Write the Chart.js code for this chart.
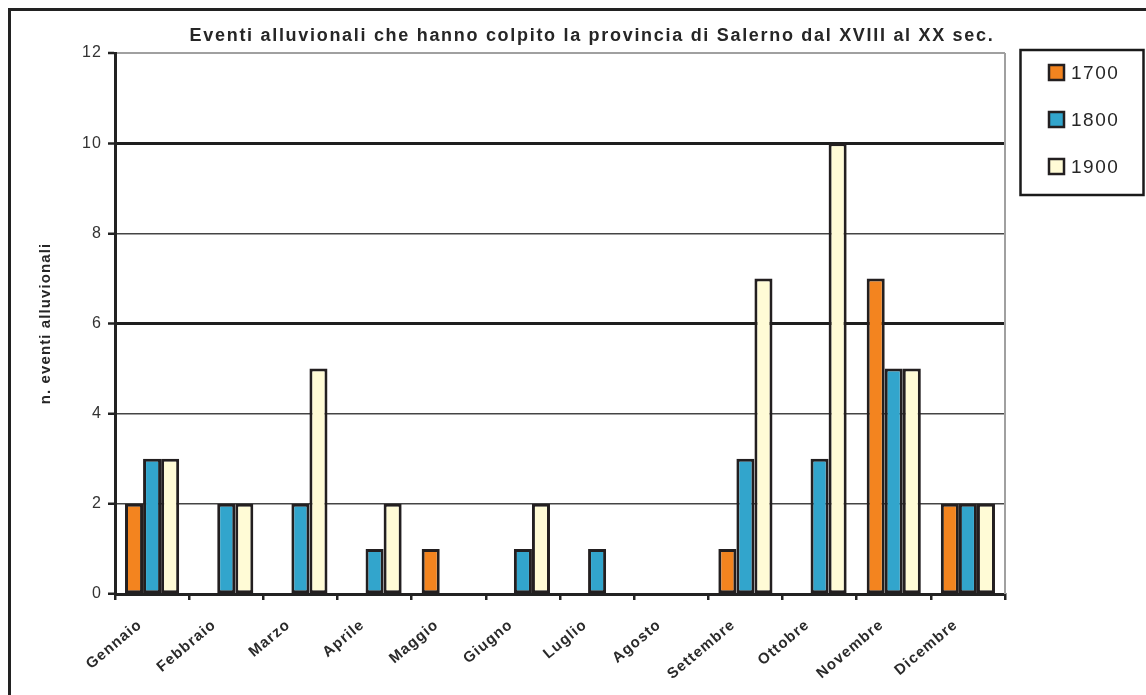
<!DOCTYPE html>
<html>
<head>
<meta charset="utf-8">
<title>Eventi alluvionali - provincia di Salerno</title>
<script src="https://cdn.jsdelivr.net/npm/chart.js@4/dist/chart.umd.min.js"></script>
<style>
  html, body { margin: 0; padding: 0; background: #fff; }
  #wrap { width: 1146px; height: 695px; position: relative; }
</style>
</head>
<body>
<div id="wrap"><canvas id="alluvioni"></canvas></div>
<script>
// --- Dati ---
const mesi = ['Gennaio', 'Febbraio', 'Marzo', 'Aprile', 'Maggio', 'Giugno', 'Luglio', 'Agosto', 'Settembre', 'Ottobre', 'Novembre', 'Dicembre'];
const secolo1700 = [2, 0, 0, 0, 1, 0, 0, 0, 1, 0, 7, 2];
const secolo1800 = [3, 2, 2, 1, 0, 1, 1, 0, 3, 3, 5, 2];
const secolo1900 = [3, 2, 5, 2, 0, 2, 0, 0, 7, 10, 5, 2];
const yTicks = [0, 2, 4, 6, 8, 10, 12];

const titolo = 'Eventi alluvionali che hanno colpito la provincia di Salerno dal XVIII al XX sec.';
const bordo = '#231f20';
const font = '"Liberation Sans", Arial, sans-serif';

// --- Cornice, titolo e legenda ---
const decorPlugin = {
  id: 'decor',
  beforeDraw(chart) {
    const ctx = chart.ctx;
    ctx.save();
    ctx.fillStyle = '#fff';
    ctx.fillRect(0, 0, chart.width, chart.height);
    ctx.restore();
    // testo leggermente spaziato per assi ed etichette
    ctx.letterSpacing = '1.1px';
  },
  afterDraw(chart) {
    const ctx = chart.ctx;
    const area = chart.chartArea;
    ctx.save();

    // cornice esterna
    ctx.strokeStyle = '#222';
    ctx.lineWidth = 3;
    ctx.beginPath();
    ctx.moveTo(9.5, chart.height);
    ctx.lineTo(9.5, 9.5);
    ctx.lineTo(chart.width, 9.5);
    ctx.stroke();

    // bordo destro dell'area grafico
    ctx.strokeStyle = '#a0a0a0';
    ctx.lineWidth = 2;
    ctx.beginPath();
    ctx.moveTo(area.right, area.top);
    ctx.lineTo(area.right, area.bottom);
    ctx.stroke();

    // titolo
    ctx.fillStyle = '#262626';
    ctx.letterSpacing = '1.7px';
    ctx.font = 'bold 18px ' + font;
    ctx.textAlign = 'center';
    ctx.textBaseline = 'middle';
    ctx.fillText(titolo, 592, 36);

    // legenda
    ctx.strokeStyle = '#1a1a1a';
    ctx.lineWidth = 2.5;
    ctx.strokeRect(1020.5, 50, 123, 145);
    ctx.letterSpacing = '1.5px';
    ctx.font = '19px ' + font;
    ctx.textAlign = 'left';
    const ys = [73, 120, 167];
    chart.data.datasets.forEach((ds, i) => {
      const y = ys[i];
      ctx.fillStyle = ds.backgroundColor;
      ctx.fillRect(1049, y - 8, 15, 15);
      ctx.strokeStyle = bordo;
      ctx.lineWidth = 2.5;
      ctx.strokeRect(1049, y - 8, 15, 15);
      ctx.fillStyle = '#262626';
      ctx.fillText(ds.label, 1071, y + 1);
    });
    ctx.restore();
  }
};

function serie(label, data, colore) {
  return {
    label: label,
    data: data,
    backgroundColor: colore,
    borderColor: bordo,
    borderWidth: 3,
    borderSkipped: false,
    categoryPercentage: 0.73,
    barPercentage: 1.0
  };
}

new Chart(document.getElementById('alluvioni').getContext('2d'), {
  type: 'bar',
  data: {
    labels: mesi,
    datasets: [
      serie('1700', secolo1700, '#f3841f'),
      serie('1800', secolo1800, '#32a5cc'),
      serie('1900', secolo1900, '#fffbd6')
    ]
  },
  options: {
    responsive: true,
    maintainAspectRatio: false,
    animation: false,
    layout: { padding: { left: 0, right: 141, top: 53, bottom: 0 } },
    plugins: {
      legend: { display: false },
      title: { display: false },
      tooltip: { enabled: false }
    },
    scales: {
      x: {
        afterFit: s => { s.height = 101; },
        grid: {
          display: true,
          drawOnChartArea: false,
          drawTicks: true,
          offset: true,
          tickLength: 6,
          color: '#222',
          lineWidth: 2.5
        },
        border: { display: true, color: '#222', width: 3 },
        ticks: {
          autoSkip: false,
          minRotation: 40,
          maxRotation: 40,
          padding: 16,
          labelOffset: -12,
          color: '#2a2a2a',
          font: { family: font, size: 15, weight: 'bold' }
        }
      },
      y: {
        min: 0,
        max: 12,
        afterFit: s => { s.width = 115; },
        afterBuildTicks: s => { s.ticks = yTicks.map(v => ({ value: v })); },
        grid: {
          drawTicks: true,
          tickLength: 7,
          tickColor: '#222',
          tickWidth: 2.5,
          color: c => c.tick.value === 12 ? '#a0a0a0' : (c.tick.value === 6 || c.tick.value === 10 ? '#1e1e1e' : '#444'),
          lineWidth: c => c.tick.value === 12 ? 2 : (c.tick.value === 6 || c.tick.value === 10 ? 3 : 1.5)
        },
        border: { display: true, color: '#222', width: 3 },
        ticks: {
          padding: 6,
          color: '#333',
          font: { family: font, size: 16 }
        },
        title: {
          display: true,
          text: 'n. eventi alluvionali',
          color: '#262626',
          padding: { top: 37, bottom: 0 },
          font: { family: font, size: 15, weight: 'bold' }
        }
      }
    }
  },
  plugins: [decorPlugin]
});
</script>
</body>
</html>
